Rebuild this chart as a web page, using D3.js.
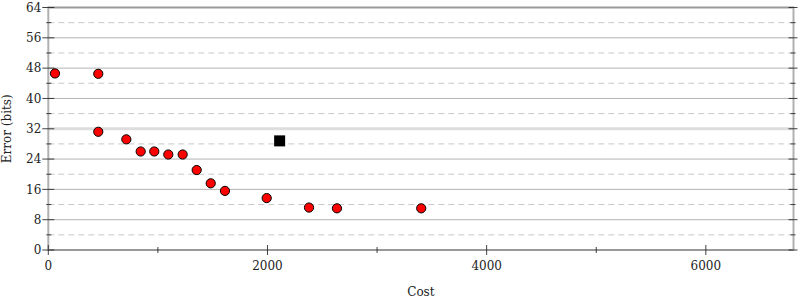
<!DOCTYPE html>
<html><head><meta charset="utf-8">
<script src="https://cdn.jsdelivr.net/npm/d3@7"></script>
<style>body{margin:0;background:#fff}svg{display:block}</style>
</head><body><svg id="c" width="800" height="300"></svg>
<script>
const costs  = [61, 456, 456, 712, 843, 967, 1095, 1226, 1354, 1482, 1612, 1993, 2379, 2634, 3403];
const errors = [46.6, 46.5, 31.2, 29.2, 26.0, 26.0, 25.2, 25.2, 21.1, 17.6, 15.6, 13.7, 11.2, 11.0, 11.0];
const special = [{cost: 2111, error: 28.8}];
const xTicks = [0, 2000, 4000, 6000];
const xMinor = [1000, 3000, 5000];
const yTicks = [0, 8, 16, 24, 32, 40, 48, 56, 64];
const yMinor = [4, 12, 20, 28, 36, 44, 52, 60];
const xLabel = "Cost", yLabel = "Error (bits)";

const L = 48.3, R = 793.5, T = 7.5, B = 250;
const x = d3.scaleLinear().domain([0, 6800]).range([L, R]);
const y = d3.scaleLinear().domain([0, 64]).range([B, T]);
const svg = d3.select("#c");
const font = "DejaVu Serif, serif";

// minor dashed gridlines
svg.append("g").selectAll("line").data(yMinor).join("line")
  .attr("x1", L).attr("x2", R).attr("y1", d => y(d)).attr("y2", d => y(d))
  .attr("stroke", "#c8c8c8").attr("stroke-width", 1).attr("stroke-dasharray", "6,4");
// major gridlines
svg.append("g").selectAll("line").data(yTicks.filter(d => d > 0 && d < 64)).join("line")
  .attr("x1", L).attr("x2", R).attr("y1", d => y(d)).attr("y2", d => y(d))
  .attr("stroke", d => d === 32 ? "#dddddd" : "#b4b4b4")
  .attr("stroke-width", d => d === 32 ? 3 : 1);

// frame
svg.append("line").attr("x1", L).attr("x2", R).attr("y1", y(64)).attr("y2", y(64)).attr("stroke", "#999").attr("stroke-width", 2);
svg.append("line").attr("x1", L).attr("x2", R).attr("y1", y(0)).attr("y2", y(0)).attr("stroke", "#999").attr("stroke-width", 2);
svg.append("line").attr("x1", L).attr("x2", L).attr("y1", T - 1).attr("y2", B + 1).attr("stroke", "#b0b0b0").attr("stroke-width", 2);
svg.append("line").attr("x1", R).attr("x2", R).attr("y1", T - 1).attr("y2", B + 1).attr("stroke", "#b0b0b0").attr("stroke-width", 2);

// y ticks
const tk = svg.append("g").attr("stroke", "#222").attr("stroke-opacity", 0.85);
yTicks.forEach(d => {
  tk.append("line").attr("x1", L - 6).attr("x2", L + 6).attr("y1", y(d)).attr("y2", y(d));
  tk.append("line").attr("x1", R - 5).attr("x2", R + 4).attr("y1", y(d)).attr("y2", y(d));
});
yMinor.forEach(d => {
  tk.append("line").attr("x1", L - 2).attr("x2", L + 3).attr("y1", y(d)).attr("y2", y(d));
  tk.append("line").attr("x1", R - 3).attr("x2", R + 2).attr("y1", y(d)).attr("y2", y(d));
});
xTicks.forEach(d => {
  tk.append("line").attr("x1", x(d)).attr("x2", x(d)).attr("y1", B - 5).attr("y2", B + 5);
});
xMinor.forEach(d => {
  tk.append("line").attr("x1", x(d)).attr("x2", x(d)).attr("y1", B - 3).attr("y2", B + 3);
});

// tick labels
svg.append("g").selectAll("text").data(yTicks).join("text")
  .attr("x", L - 7).attr("y", d => y(d)).attr("dy", "0.36em")
  .attr("text-anchor", "end").attr("font-family", font).attr("font-size", 12).attr("fill", "#222")
  .text(d => d);
svg.append("g").selectAll("text").data(xTicks).join("text")
  .attr("x", d => x(d)).attr("y", 269.5)
  .attr("text-anchor", "middle").attr("font-family", font).attr("font-size", 12).attr("fill", "#222")
  .text(d => d);

// axis titles
svg.append("text").attr("x", (L + R) / 2).attr("y", 295.5).attr("text-anchor", "middle")
  .attr("font-family", font).attr("font-size", 12).attr("fill", "#222").text(xLabel);
svg.append("text").attr("transform", `translate(11,${(T + B) / 2}) rotate(-90)`).attr("text-anchor", "middle")
  .attr("font-family", font).attr("font-size", 12).attr("fill", "#222").text(yLabel);

// points
svg.append("g").selectAll("circle").data(costs.map((c, i) => ({c, e: errors[i]}))).join("circle")
  .attr("cx", d => x(d.c)).attr("cy", d => y(d.e)).attr("r", 4.6)
  .attr("fill", "#ff0000").attr("stroke", "#000").attr("stroke-width", 1);
svg.append("g").selectAll("rect").data(special).join("rect")
  .attr("x", d => x(d.cost) - 5.5).attr("y", d => y(d.error) - 5.5).attr("width", 11).attr("height", 11)
  .attr("fill", "#000");
</script></body></html>
